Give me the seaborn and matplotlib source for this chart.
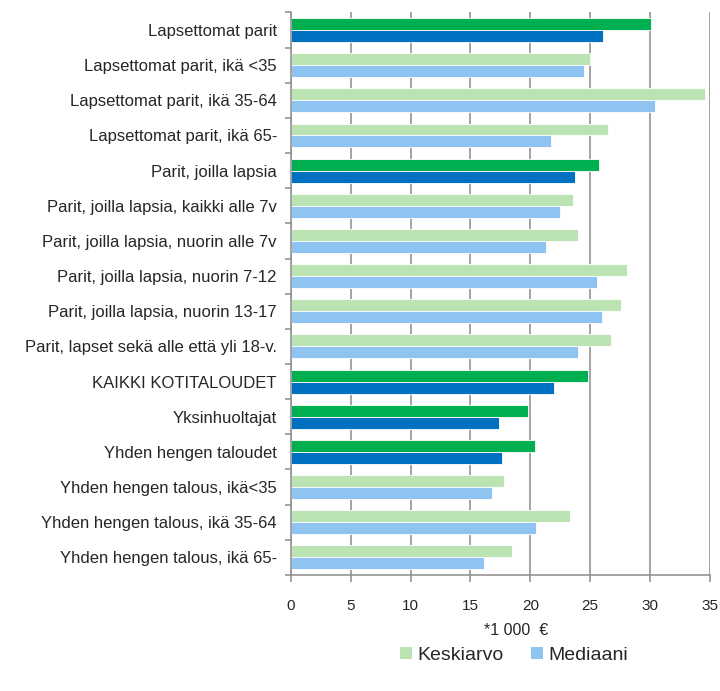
import pandas as pd
import seaborn as sns
import matplotlib.pyplot as plt
import numpy as np
from matplotlib.patches import Patch

# Data (*1 000 €)
categories = [
    "Lapsettomat parit",
    "Lapsettomat parit, ikä <35",
    "Lapsettomat parit, ikä 35-64",
    "Lapsettomat parit, ikä 65-",
    "Parit, joilla lapsia",
    "Parit, joilla lapsia, kaikki alle 7v",
    "Parit, joilla lapsia, nuorin alle 7v",
    "Parit, joilla lapsia, nuorin 7-12",
    "Parit, joilla lapsia, nuorin 13-17",
    "Parit, lapset sekä alle että yli 18-v.",
    "KAIKKI KOTITALOUDET",
    "Yksinhuoltajat",
    "Yhden hengen taloudet",
    "Yhden hengen talous, ikä<35",
    "Yhden hengen talous, ikä 35-64",
    "Yhden hengen talous, ikä 65-",
]
keskiarvo = [30.1, 25.0, 34.6, 26.5, 25.7, 23.6, 24.0, 28.1, 27.6, 26.7,
             24.8, 19.8, 20.4, 17.8, 23.3, 18.5]
mediaani = [26.1, 24.5, 30.4, 21.7, 23.7, 22.5, 21.3, 25.6, 26.0, 24.0,
            22.0, 17.4, 17.6, 16.8, 20.5, 16.1]
# main groups drawn in stronger colours
highlight = ["Lapsettomat parit", "Parit, joilla lapsia", "KAIKKI KOTITALOUDET",
             "Yksinhuoltajat", "Yhden hengen taloudet"]
series = ["Keskiarvo", "Mediaani"]

light = {"Keskiarvo": "#bce4b3", "Mediaani": "#8fc3f1"}
dark = {"Keskiarvo": "#00b050", "Mediaani": "#0070c0"}

df = pd.DataFrame({"kategoria": categories, "Keskiarvo": keskiarvo, "Mediaani": mediaani})
df_long = df.melt(id_vars="kategoria", value_vars=series, var_name="sarja", value_name="arvo")

sns.set_style("white")
plt.rcParams['font.family'] = ['Liberation Sans', 'DejaVu Sans']

fig = plt.figure(figsize=(7.2, 6.91), dpi=100)
ax = fig.add_axes([0.404, 0.168, 0.582, 0.814])

sns.barplot(data=df_long, y="kategoria", x="arvo", hue="sarja", order=categories,
            hue_order=series, palette=light, orient="h", width=0.68, saturation=1,
            edgecolor="white", linewidth=0.6, legend=False, ax=ax)

# recolour the main group bars
for name, cont in zip(series, ax.containers):
    for cat, bar in zip(categories, cont):
        if cat in highlight:
            bar.set_facecolor(dark[name])

ax.set_xlim(0, 35)
ax.set_ylim(len(categories) - 0.5, -0.5)
ax.set_xticks(np.arange(0, 36, 5))
ax.xaxis.grid(True, color="#8c8c8c", linewidth=1.1)
ax.set_axisbelow(True)
ax.set_ylabel("")
ax.set_xlabel("*1 000  €", fontsize=11.5)
ax.xaxis.set_label_coords(0.537, -0.085)

for s in ["top", "right"]:
    ax.spines[s].set_visible(False)
for s in ["left", "bottom"]:
    ax.spines[s].set_color("#8c8c8c")
    ax.spines[s].set_linewidth(1.1)

ax.set_yticks(np.arange(-0.5, len(categories), 1), minor=True)
ax.tick_params(axis="y", which="major", length=0, labelsize=12, pad=10)
ax.tick_params(axis="y", which="minor", length=4, color="#8c8c8c", width=1.1, left=True)
ax.tick_params(axis="x", which="major", length=5, color="#8c8c8c", width=1.1,
               bottom=True, labelsize=11, pad=12)

handles = [Patch(facecolor=light[s], edgecolor="none", label=s) for s in series]
fig.legend(handles=handles, loc="center", bbox_to_anchor=(0.714, 0.052), ncol=2,
           frameon=False, fontsize=14, handlelength=0.6, handleheight=0.6,
           handletextpad=0.3, columnspacing=1.4)

fig.savefig("out.png", dpi=100)
